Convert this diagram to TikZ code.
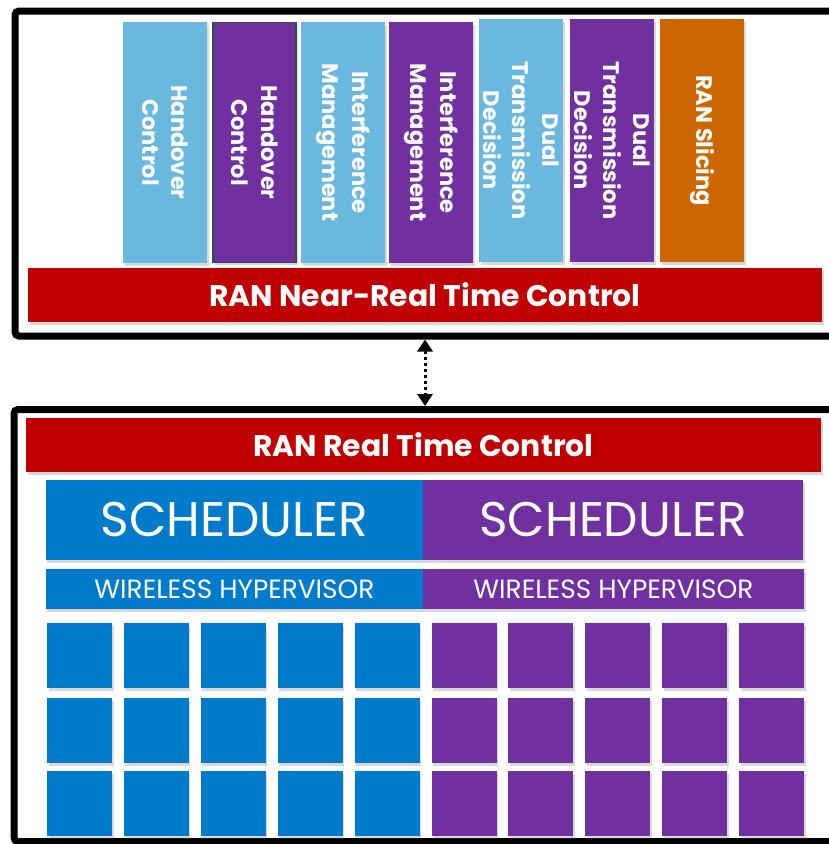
\documentclass[tikz,border=0pt]{standalone}
\usepackage{fontspec}
\setmainfont{Poppins}
\usetikzlibrary{shadows,arrows.meta,calc}

\definecolor{lblue}{HTML}{6AB8DE}
\definecolor{purp}{HTML}{7030A0}
\definecolor{ranred}{HTML}{C00000}
\definecolor{slice}{HTML}{CC6600}
\definecolor{sblue}{HTML}{007BCC}
\definecolor{edgegreen}{HTML}{2F5040}

\begin{document}
\begin{tikzpicture}[x=1pt,y=-1pt,
  softshadow/.style={drop shadow={shadow xshift=1.5pt,shadow yshift=-2.5pt,opacity=0.25,fill=black!60}},
  frame/.style={draw=black,line width=7pt,rounded corners=4pt,fill=white,inner sep=0pt,
    drop shadow={shadow xshift=1pt,shadow yshift=-3pt,opacity=0.25,fill=black!60}},
  modbox/.style={minimum width=84pt,minimum height=241pt,inner sep=0pt,softshadow},
  vtext/.style={rotate=-90,align=center,text=white,inner sep=0pt,
    font=\bfseries\fontsize{22.5}{29.5}\selectfont},
  redbar/.style={fill=ranred,minimum height=54pt,inner sep=0pt,softshadow,text=white,
    font=\bfseries\fontsize{29.8}{34}\selectfont},
  sched/.style={minimum width=378pt,minimum height=80pt,inner sep=0pt,softshadow,text=white,
    font=\fontsize{48.6}{52}\selectfont},
  hyper/.style={minimum width=378pt,minimum height=40pt,inner sep=0pt,softshadow,text=white,
    font=\fontsize{26.4}{29}\selectfont},
  cell/.style={minimum width=65pt,minimum height=65pt,inner sep=0pt,softshadow},
  link/.style={line width=3pt,dash pattern=on 3pt off 3pt,
    {Triangle[width=15pt,length=12pt]}-{Triangle[width=15pt,length=12pt]}}
]
\useasboundingbox (0,0) rectangle (828,844);

% outer frames of the two control layers
\node[frame,minimum width=825pt,minimum height=325pt] (nrt) at (427.5,173.5) {};
\node[frame,minimum width=826pt,minimum height=432pt] (rt) at (427,625.5) {};

% near-real-time control applications
\node[modbox,fill=lblue] (m1) at (165,142.5) {};
\node[modbox,fill=purp,draw=edgegreen,line width=1.2pt,minimum width=83pt,minimum height=240pt] (m2) at (254.5,142.5) {};
\node[modbox,fill=lblue] (m3) at (343,142.5) {};
\node[modbox,fill=purp] (m4) at (431,142.5) {};
\node[modbox,fill=lblue,minimum height=243pt] (m5) at (521,140.5) {};
\node[modbox,fill=purp,minimum height=243pt] (m6) at (612,140.5) {};
\node[modbox,fill=slice,minimum height=243pt] (m7) at (702,140.5) {};

\node[vtext] (t1) at (m1) {Handover\\Control};
\node[vtext] (t2) at (m2) {Handover\\Control};
\node[vtext] (t3) at (m3) {Interference\\Management};
\node[vtext] (t4) at (m4) {Interference\\Management};
\node[vtext] (t5) at (m5) {Dual\\Transmission\\Decision};
\node[vtext] (t6) at (m6) {Dual\\Transmission\\Decision};
\node[vtext] (t7) at (m7) {RAN Slicing};

\node[redbar,minimum width=794pt] (nrtc) at (425,295) {RAN Near-Real Time Control};

% real-time control layer
\node[redbar,minimum width=795pt] (rtc) at (423.5,445) {RAN Real Time Control};

\node[sched,fill=sblue] (s1) at (234.5,520) {SCHEDULER};
\node[sched,fill=purp,minimum width=380pt] (s2) at (613,520) {SCHEDULER};
\node[hyper,fill=sblue] (h1) at (234.5,589) {WIRELESS HYPERVISOR};
\node[hyper,fill=purp,minimum width=381pt] (h2) at (613.5,589) {WIRELESS HYPERVISOR};

% resource blocks
\foreach \r/\yy in {1/655.5,2/730.5,3/803.5}{
  \foreach \c in {0,...,9}{
    \pgfmathsetmacro{\xx}{79.5+76.9*\c}
    \ifnum\c<5
      \node[cell,fill=sblue] (b\r-\c) at (\xx,\yy) {};
    \else
      \node[cell,fill=purp] (b\r-\c) at (\xx,\yy) {};
    \fi
  }
}

% interface between the two layers
\coordinate (lx) at (425,0);
\draw[link] (nrt.south -| lx) -- (rt.north -| lx);
\end{tikzpicture}
\end{document}
